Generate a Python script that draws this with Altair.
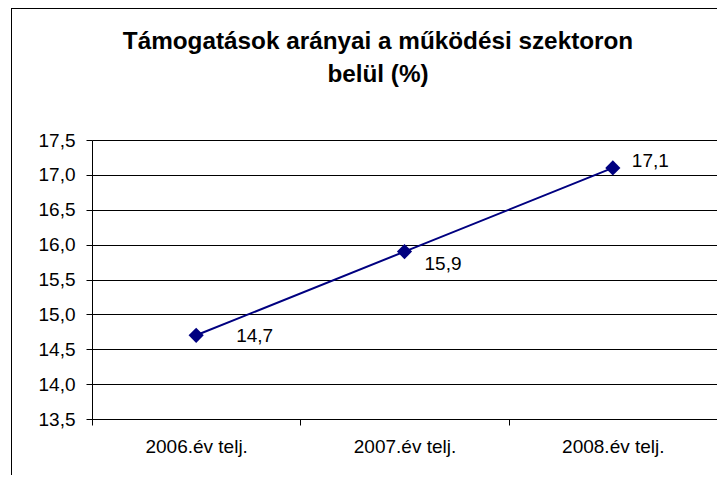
import altair as alt
import pandas as pd

categories = ["2006.év telj.", "2007.év telj.", "2008.év telj."]
values = [14.7, 15.9, 17.1]
y_ticks = [13.5, 14.0, 14.5, 15.0, 15.5, 16.0, 16.5, 17.0, 17.5]
title_lines = ["Támogatások arányai a működési szektoron", "belül (%)"]

df = pd.DataFrame({"cat": categories, "v": values})

FONT = "Liberation Sans, Arial, sans-serif"
NAVY = "#000080"
fmt = "replace(format(datum.v, '.1f'), '.', ',')"

x_enc = alt.X(
    "cat:N",
    sort=categories,
    title=None,
    scale=alt.Scale(type="band", paddingInner=0, paddingOuter=0),
    axis=alt.Axis(
        labelAngle=0, labelFontSize=19, labelFont=FONT, labelColor="black",
        labelPadding=12, tickBand="extent", tickSize=6, tickColor="black",
        domainColor="black", grid=False,
    ),
)
y_enc = alt.Y(
    "v:Q",
    title=None,
    scale=alt.Scale(domain=[13.5, 17.5], nice=False, zero=False),
    axis=alt.Axis(
        values=y_ticks,
        labelExpr="replace(format(datum.value, '.1f'), '.', ',')",
        grid=True, gridColor="black", gridWidth=1,
        tickSize=6, tickColor="black", domainColor="black",
        labelPadding=11, labelFontSize=19, labelFont=FONT, labelColor="black",
    ),
)

base = alt.Chart(df).encode(x=x_enc, y=y_enc)

line = base.mark_line(color=NAVY, strokeWidth=2)
pts = base.mark_point(shape="diamond", filled=True, size=230, color=NAVY, opacity=1)

label_offsets = {categories[0]: (40, 1), categories[1]: (20, 12), categories[2]: (19, -7)}
labels = []
for c in categories:
    dx, dy = label_offsets[c]
    labels.append(
        base.transform_filter(alt.datum.cat == c)
        .transform_calculate(lbl=fmt)
        .mark_text(align="left", baseline="middle", dx=dx, dy=dy,
                   fontSize=19, font=FONT, color="black")
        .encode(text="lbl:N")
    )

border_data = alt.Data(values=[{"k": 1}])
top_border = alt.Chart(border_data).mark_rule(color="black", strokeWidth=1).encode(
    x=alt.value(-81), x2=alt.value(700), y=alt.value(-131.5)
)
left_border = alt.Chart(border_data).mark_rule(color="black", strokeWidth=1).encode(
    x=alt.value(-80.5), y=alt.value(-132), y2=alt.value(400)
)

chart = alt.layer(line, pts, *labels, top_border, left_border).properties(
    width=625,
    height=279,
    autosize="none",
    padding={"left": 84, "top": 132, "right": 0, "bottom": 56},
    title=alt.TitleParams(
        text=title_lines, fontSize=24.3, font=FONT, fontWeight="bold", color="black",
        anchor="middle", frame="group", dx=-26.5, lineHeight=33, offset=-80,
    ),
).configure_view(stroke="transparent").configure(background="white")

chart.save("out.html", embed_options={"renderer": "svg", "actions": False})
